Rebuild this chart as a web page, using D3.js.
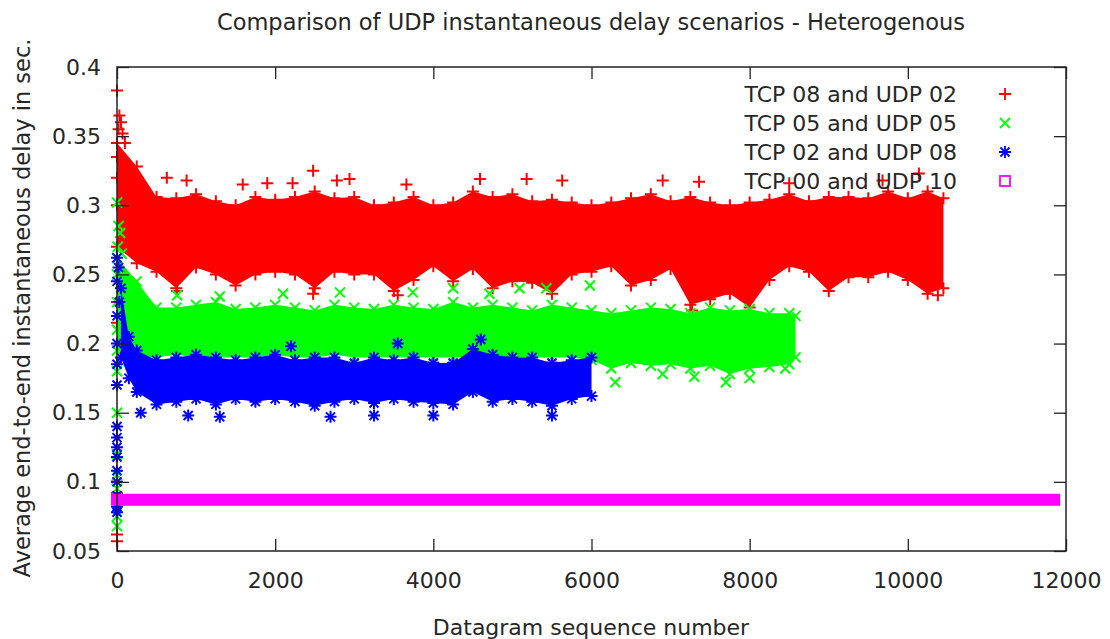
<!DOCTYPE html>
<html>
<head>
<meta charset="utf-8">
<script src="https://cdnjs.cloudflare.com/ajax/libs/d3/7.8.5/d3.min.js"></script>
<style>
body { margin: 0; background: #fff; }
text { font-family: "DejaVu Sans", sans-serif; fill: #262626; }
</style>
</head>
<body>
<svg width="1110" height="639"></svg>
<script>
var width = 1110;
var height = 639;

var xTicks = [0, 2000, 4000, 6000, 8000, 10000, 12000];
var yTicks = [0.05, 0.1, 0.15, 0.2, 0.25, 0.3, 0.35, 0.4];
var yTickLabels = ["0.05", "0.1", "0.15", "0.2", "0.25", "0.3", "0.35", "0.4"];

var seriesNames = ["TCP 08 and UDP 02", "TCP 05 and UDP 05", "TCP 02 and UDP 08", "TCP 00 and UDP 10"];

// red: TCP 08 and UDP 02 (dense band, upper/lower edge read per 250 datagrams)
var redSeq = [0,250,500,750,1000,1250,1500,1750,2000,2250,2500,2750,3000,3250,3500,3750,4000,4250,4500,4750,5000,5250,5500,5750,6000,6250,6500,6750,7000,7250,7500,7750,8000,8250,8500,8750,9000,9250,9500,9750,10000,10250,10450];
var redHi = [0.345,0.328,0.306,0.305,0.308,0.303,0.300,0.306,0.304,0.306,0.310,0.305,0.306,0.300,0.302,0.306,0.300,0.302,0.310,0.306,0.308,0.303,0.304,0.302,0.300,0.302,0.305,0.308,0.303,0.306,0.302,0.300,0.302,0.304,0.308,0.303,0.306,0.306,0.305,0.310,0.305,0.310,0.305];
var redLo = [0.270,0.258,0.252,0.240,0.255,0.250,0.242,0.250,0.252,0.250,0.240,0.252,0.250,0.250,0.238,0.246,0.256,0.245,0.254,0.240,0.245,0.244,0.236,0.250,0.252,0.256,0.242,0.246,0.254,0.228,0.232,0.236,0.226,0.246,0.256,0.252,0.238,0.248,0.248,0.252,0.246,0.236,0.240];
var redOut = [[0,0.383],[30,0.365],[50,0.36],[20,0.355],[70,0.352],[100,0.345],[0,0.335],[0,0.32],[0,0.3],[0,0.23],[0,0.215],[0,0.1],[0,0.092],[0,0.062],[0,0.057],
  [630,0.32],[880,0.318],[1590,0.315],[1900,0.316],[2220,0.316],[2480,0.325],[2780,0.318],[2940,0.319],[3660,0.315],[4590,0.319],[5180,0.319],[5630,0.318],[6900,0.318],[7360,0.317],[8500,0.316],[9680,0.318],[10140,0.323],
  [7270,0.224],[8000,0.222],[10380,0.235],[760,0.238],[2480,0.236],[3550,0.235]];

// green: TCP 05 and UDP 05
var greenSeq = [0,250,500,750,1000,1250,1500,1750,2000,2250,2500,2750,3000,3250,3500,3750,4000,4250,4500,4750,5000,5250,5500,5750,6000,6250,6500,6750,7000,7250,7500,7750,8000,8250,8500,8580];
var greenHi = [0.262,0.245,0.226,0.226,0.228,0.230,0.225,0.226,0.228,0.226,0.224,0.228,0.226,0.225,0.228,0.226,0.225,0.230,0.226,0.228,0.226,0.224,0.228,0.226,0.224,0.222,0.224,0.226,0.225,0.222,0.226,0.224,0.225,0.222,0.222,0.220];
var greenLo = [0.195,0.190,0.190,0.192,0.190,0.190,0.190,0.190,0.192,0.190,0.190,0.192,0.190,0.190,0.190,0.190,0.190,0.190,0.190,0.190,0.190,0.190,0.190,0.190,0.188,0.182,0.186,0.184,0.185,0.182,0.184,0.178,0.182,0.183,0.185,0.190];
var greenOut = [[0,0.302],[20,0.285],[40,0.28],[10,0.27],[60,0.265],[0,0.25],[0,0.23],[0,0.21],[0,0.18],[0,0.15],[0,0.12],[0,0.105],[0,0.095],[0,0.075],[0,0.068],
  [760,0.235],[1300,0.234],[2100,0.236],[2820,0.237],[3740,0.237],[4250,0.24],[4710,0.236],[5090,0.24],[5430,0.24],[5980,0.242],
  [6300,0.172],[6900,0.178],[7300,0.176],[7700,0.172],[8000,0.175],[8450,0.182]];

// blue: TCP 02 and UDP 08
var blueSeq = [50,150,250,500,750,1000,1250,1500,1750,2000,2250,2500,2750,3000,3250,3500,3750,4000,4250,4500,4750,5000,5250,5500,5750,6000];
var blueHi = [0.240,0.205,0.195,0.188,0.190,0.192,0.190,0.188,0.190,0.192,0.188,0.190,0.190,0.186,0.190,0.188,0.190,0.186,0.186,0.196,0.192,0.190,0.190,0.186,0.188,0.190];
var blueLo = [0.190,0.175,0.165,0.156,0.158,0.160,0.156,0.160,0.158,0.160,0.158,0.155,0.158,0.160,0.157,0.160,0.158,0.157,0.156,0.165,0.158,0.160,0.158,0.155,0.160,0.162];
var blueOut = [[0,0.262],[20,0.255],[0,0.245],[30,0.23],[0,0.22],[0,0.2],[0,0.185],[0,0.17],[0,0.14],[0,0.132],[0,0.125],[0,0.118],[0,0.108],[0,0.1],[0,0.09],[0,0.082],[0,0.078],
  [300,0.15],[900,0.148],[1300,0.147],[2700,0.147],[3250,0.148],[4000,0.148],[5500,0.148],[2200,0.198],[3550,0.2],[4600,0.203]];

// magenta: TCP 00 and UDP 10 (flat)
var magentaSeq = [0, 2000, 4000, 6000, 8000, 10000, 11850];
var magentaDelay = [0.087, 0.087, 0.087, 0.087, 0.087, 0.087, 0.087];

var colors = ["#ff0000", "#00ff00", "#0000ff", "#ff00ff"];

var margin = {left: 117, right: 1066, top: 67, bottom: 551};

var svg = d3.select("svg")
    .attr("width", width)
    .attr("height", height);

var x = d3.scaleLinear().domain([0, 12000]).range([margin.left, margin.right]);
var y = d3.scaleLinear().domain([0.05, 0.4]).range([margin.bottom, margin.top]);

var plot = svg.append("g");

var markerPath = {
    plus: "M-6,0H6M0,-6V6",
    cross: "M-5,-5L5,5M-5,5L5,-5",
    star: "M-6,0H6M0,-6V6M-4.5,-4.5L4.5,4.5M-4.5,4.5L4.5,-4.5"
};

var drawCloud = function(seq, hi, lo, out, color, marker) {
    var idx = d3.range(seq.length);
    var area = d3.area()
        .x(function(i) { return x(seq[i]); })
        .y0(function(i) { return y(lo[i]); })
        .y1(function(i) { return y(hi[i]); });

    plot.append("path")
        .attr("d", area(idx))
        .attr("fill", color);

    var pts = [];
    idx.forEach(function(i) {
        pts.push([seq[i], hi[i]]);
        pts.push([seq[i], lo[i]]);
    });
    pts = pts.concat(out);

    plot.append("g").selectAll("path")
        .data(pts)
        .enter()
        .append("path")
        .attr("transform", function(d) { return "translate(" + x(d[0]) + "," + y(d[1]) + ")"; })
        .attr("d", markerPath[marker])
        .attr("stroke", color)
        .attr("stroke-width", 2)
        .attr("fill", "none");
}

drawCloud(redSeq, redHi, redLo, redOut, colors[0], "plus");
drawCloud(greenSeq, greenHi, greenLo, greenOut, colors[1], "cross");
drawCloud(blueSeq, blueHi, blueLo, blueOut, colors[2], "star");

var line = d3.line()
    .x(function(i) { return x(magentaSeq[i]); })
    .y(function(i) { return y(magentaDelay[i]); });

plot.append("path")
    .attr("d", line(d3.range(magentaSeq.length)))
    .attr("stroke", colors[3])
    .attr("stroke-width", 12)
    .attr("stroke-linecap", "square")
    .attr("fill", "none");

// frame and inward ticks (gnuplot style, mirrored)
var axes = svg.append("g");
var tickLen = 12;

axes.append("g")
    .attr("transform", "translate(0," + margin.bottom + ")")
    .call(d3.axisBottom(x).tickValues(xTicks).tickSize(-tickLen).tickPadding(21).tickFormat(d3.format("d")));
axes.append("g")
    .attr("transform", "translate(0," + margin.top + ")")
    .call(d3.axisTop(x).tickValues(xTicks).tickSize(-tickLen).tickFormat(""));
axes.append("g")
    .attr("transform", "translate(" + margin.left + ",0)")
    .call(d3.axisLeft(y).tickValues(yTicks).tickSize(-tickLen).tickPadding(16)
        .tickFormat(function(d, i) { return yTickLabels[i]; }));
axes.append("g")
    .attr("transform", "translate(" + margin.right + ",0)")
    .call(d3.axisRight(y).tickValues(yTicks).tickSize(-tickLen).tickFormat(""));

axes.selectAll(".domain").remove();
axes.selectAll(".tick line").attr("stroke", "#222").attr("stroke-width", 1.3);
axes.selectAll(".tick text")
    .style("font-family", "DejaVu Sans, sans-serif")
    .style("font-size", "22px")
    .attr("fill", "#262626");

axes.append("rect")
    .attr("x", margin.left)
    .attr("y", margin.top)
    .attr("width", margin.right - margin.left)
    .attr("height", margin.bottom - margin.top)
    .attr("fill", "none")
    .attr("stroke", "#222")
    .attr("stroke-width", 1.5);

// legend
var legend = svg.append("g");
var legendY = [94, 123, 152, 181];
var legendMarker = ["plus", "cross", "star"];

seriesNames.forEach(function(name, i) {
    legend.append("text")
        .attr("x", 957)
        .attr("y", legendY[i])
        .attr("dy", "0.36em")
        .attr("text-anchor", "end")
        .style("font-size", "22px")
        .text(name);
    if (i < 3) {
        legend.append("path")
            .attr("transform", "translate(1005," + legendY[i] + ")")
            .attr("d", markerPath[legendMarker[i]])
            .attr("stroke", colors[i])
            .attr("stroke-width", 1.8)
            .attr("fill", "none");
    } else {
        legend.append("rect")
            .attr("x", 1000)
            .attr("y", legendY[i] - 5)
            .attr("width", 10)
            .attr("height", 10)
            .attr("stroke", colors[i])
            .attr("stroke-width", 1.8)
            .attr("fill", "none");
    }
});

svg.append("text")
    .attr("x", 591)
    .attr("y", 30)
    .attr("text-anchor", "middle")
    .style("font-size", "22.5px")
    .text("Comparison of UDP instantaneous delay scenarios - Heterogenous");

svg.append("text")
    .attr("x", 591)
    .attr("y", 635)
    .attr("text-anchor", "middle")
    .style("font-size", "22px")
    .text("Datagram sequence number");

svg.append("text")
    .attr("transform", "translate(30,308) rotate(-90)")
    .attr("text-anchor", "middle")
    .style("font-size", "22.5px")
    .text("Average end-to-end instantaneous delay in sec.");
</script>
</body>
</html>
